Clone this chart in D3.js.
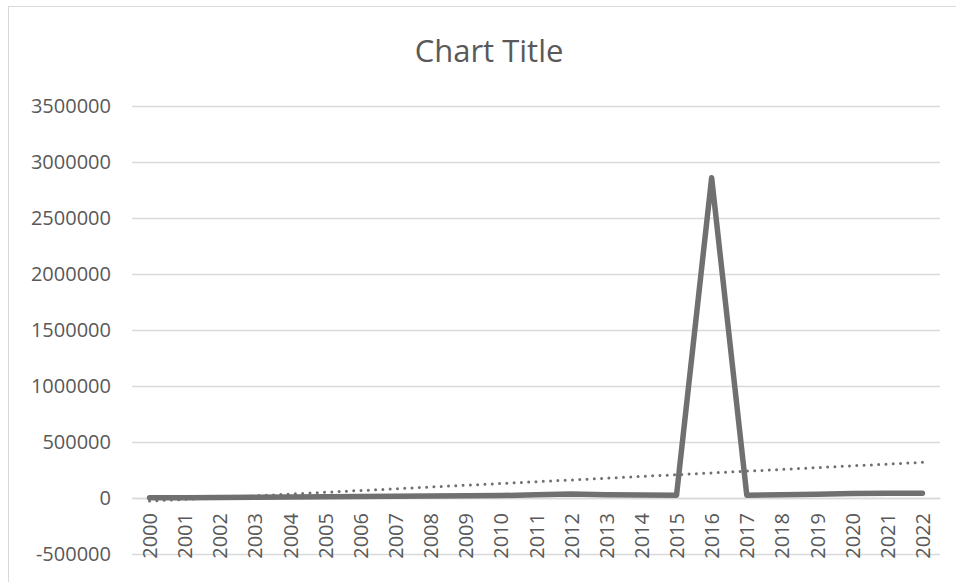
<!DOCTYPE html>
<html><head><meta charset="utf-8">
<script src="https://cdn.jsdelivr.net/npm/d3@7"></script>
<style>
html,body{margin:0;padding:0;background:#fff;}
svg{display:block;}
</style></head>
<body>
<svg id="chart" width="956" height="582"></svg>
<script>
const years = ["2000","2001","2002","2003","2004","2005","2006","2007","2008","2009","2010","2011","2012","2013","2014","2015","2016","2017","2018","2019","2020","2021","2022"];
const values = [2000,3000,5000,7000,9000,11000,13000,16000,18000,20000,22000,28000,35000,30000,27000,25000,2860000,25000,30000,33000,40000,42000,43000];
const yTicks = [-500000,0,500000,1000000,1500000,2000000,2500000,3000000,3500000];
const title = "Chart Title";

const svg = d3.select("#chart");
const W = 956, H = 582;
const plot = {left:132, right:940, top:106, bottom:554};
const font = "'Open Sans', sans-serif";
const textColor = "#595959";
const gridColor = "#d9d9d9";
const lineColor = "#707070";

svg.append("rect").attr("x",8.5).attr("y",6.5).attr("width",W).attr("height",H)
  .attr("fill","#fff").attr("stroke",gridColor).attr("stroke-width",1);

svg.append("text").attr("x",489).attr("y",62).attr("text-anchor","middle")
  .attr("font-family",font).attr("font-size",31).attr("fill",textColor).text(title);

const x = d3.scaleBand().domain(years).range([plot.left, plot.right]).padding(0);
const y = d3.scaleLinear().domain([-500000,3500000]).range([plot.bottom, plot.top]);

// gridlines
const yAxis = d3.axisLeft(y).tickValues(yTicks).tickSize(-(plot.right-plot.left)).tickPadding(21).tickFormat(d => String(d));
const gy = svg.append("g").attr("transform",`translate(${plot.left},0)`).call(yAxis);
gy.select(".domain").remove();
gy.selectAll(".tick line").attr("stroke",gridColor).attr("stroke-width",1.5);
gy.selectAll(".tick text").attr("font-family",font).attr("font-size",20).attr("fill",textColor);

// category axis at 0
const xAxis = d3.axisBottom(x).tickSize(0).tickPadding(0);
const gx = svg.append("g").attr("transform",`translate(0,${y(0)})`).call(xAxis);
gx.select(".domain").attr("stroke",gridColor).attr("stroke-width",1.5);
gx.selectAll(".tick text")
  .attr("font-family",font).attr("font-size",20).attr("fill",textColor)
  .attr("text-anchor","end").attr("dy",null)
  .attr("transform","translate(0,15) rotate(-90)")
  .attr("dominant-baseline","central");

const cx = d => x(d) + x.bandwidth()/2;

// series line
const line = d3.line().x((d,i)=>cx(years[i])).y(d=>y(d));
svg.append("path").datum(values).attr("d",line)
  .attr("fill","none").attr("stroke",lineColor).attr("stroke-width",5.5)
  .attr("stroke-linejoin","round").attr("stroke-linecap","round");

// linear trendline (least squares on index)
const n = values.length;
const idx = d3.range(n);
const mx = d3.mean(idx), my = d3.mean(values);
const slope = d3.sum(idx, i => (i-mx)*(values[i]-my)) / d3.sum(idx, i => (i-mx)*(i-mx));
const icpt = my - slope*mx;
const trend = [0, n-1].map(i => [cx(years[i]), y(icpt + slope*i)]);
svg.append("path").attr("d", d3.line()(trend))
  .attr("fill","none").attr("stroke",lineColor).attr("stroke-width",3)
  .attr("stroke-dasharray","0 7.3").attr("stroke-linecap","round");
</script>
</body></html>
